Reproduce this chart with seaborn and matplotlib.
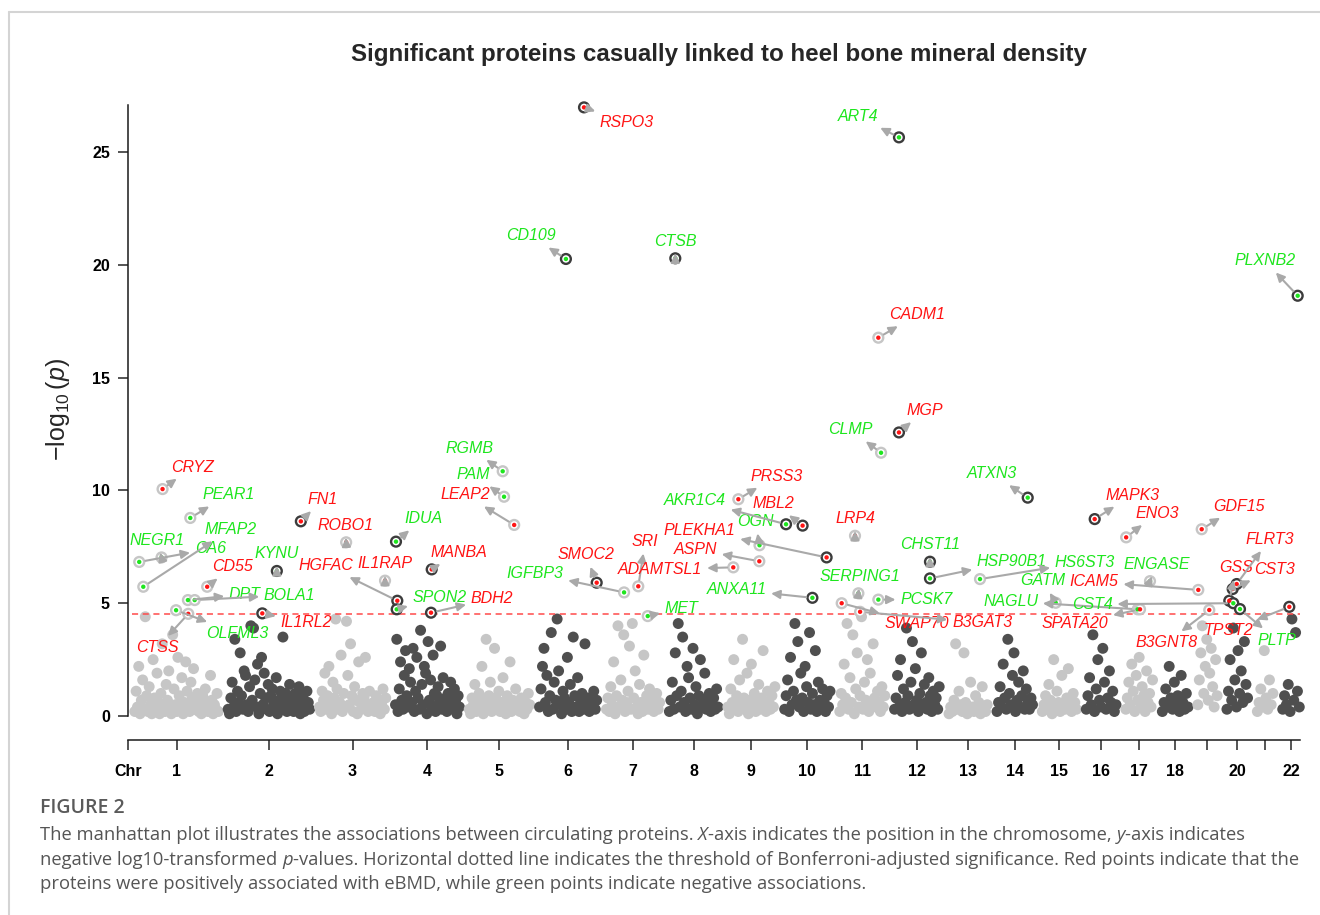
"""
Manhattan plot - significant proteins linked to heel BMD
"""

import numpy as np
import pandas as pd

import matplotlib.pyplot as plt
from matplotlib.lines import Line2D
import seaborn as sns

##########################################################
# Chromosome Layout (Mb)
##########################################################

chrom_lengths = [249, 243, 198, 191, 181, 171, 159, 146, 141, 136, 135,
                 134, 115, 107, 103, 90, 81, 78, 59, 63, 48, 51]

chrom_tick_labels = ["Chr", "1", "2", "3", "4", "5", "6", "7", "8", "9",
                     "10", "11", "12", "13", "14", "15", "16", "17", "18",
                     "", "20", "", "22"]

##########################################################
# Background Proteins (-log10 p per chromosome)
##########################################################

chr1_logp = [0.2, 1.1, 0.4, 2.2, 0.1, 0.7, 1.6, 0.3, 4.4, 0.9, 0.2, 1.3, 0.5,
             0.1, 2.5, 0.8, 0.3, 1.9, 0.6, 0.1, 1.0, 3.2, 0.4, 0.2, 1.4, 0.7,
             2.0, 0.3, 0.1, 3.6, 1.2, 0.5, 0.2, 2.6, 0.9, 0.3, 1.7, 0.1, 0.6,
             2.4, 1.1, 0.4, 0.2, 1.5, 0.8, 2.1, 0.3, 0.6, 1.0, 0.2, 0.5, 0.1,
             0.9, 0.3, 1.2, 0.6, 0.2, 0.4, 1.8, 0.7, 0.1, 0.5, 0.3, 1.0, 0.2]
chr2_logp = [0.3, 0.1, 0.8, 1.5, 0.4, 3.4, 0.2, 1.1, 0.6, 2.8, 0.9, 0.3, 2.0,
             1.8, 0.5, 0.2, 1.3, 4.0, 0.7, 3.9, 1.6, 0.4, 2.3, 0.1, 1.0, 2.6,
             0.5, 1.9, 0.8, 0.3, 1.4, 0.2, 0.9, 1.2, 0.6, 0.4, 1.7, 0.1, 0.7,
             1.1, 0.3, 3.5, 0.5, 1.0, 0.2, 0.8, 1.4, 0.4, 0.6, 0.2, 1.0, 0.3,
             0.7, 1.3, 0.1, 0.5, 0.9, 0.2, 0.4, 1.1, 0.6, 0.3]
chr3_logp = [0.4, 0.2, 1.1, 0.7, 1.9, 0.3, 0.9, 2.2, 0.5, 0.1, 1.5, 0.8, 4.3,
             1.2, 0.3, 0.6, 2.7, 0.2, 1.0, 0.4, 4.2, 1.8, 0.5, 3.2, 0.9, 0.2,
             1.3, 0.7, 0.1, 2.4, 0.6, 0.3, 1.0, 0.8, 2.6, 0.4, 0.2, 1.1, 0.5,
             0.3, 0.6, 0.2, 0.9, 0.4, 0.7, 0.1, 0.5, 1.2, 0.3, 0.8]
chr4_logp = [0.5, 3.4, 0.2, 1.2, 2.4, 0.7, 0.3, 1.8, 2.9, 0.9, 0.4, 2.1, 1.5,
             0.6, 3.0, 0.2, 1.1, 2.6, 0.8, 0.3, 3.8, 1.4, 0.5, 2.2, 1.9, 0.1,
             3.3, 0.7, 1.6, 0.4, 2.7, 1.0, 0.2, 0.9, 1.3, 0.6, 3.1, 0.3, 1.7,
             0.5, 0.8, 0.2, 1.0, 0.4, 1.5, 0.6, 0.3, 1.2, 0.7, 0.1, 0.9, 0.4]
chr5_logp = [0.3, 0.1, 0.8, 0.5, 1.4, 0.2, 0.6, 1.0, 0.4, 2.2, 0.1, 0.7, 3.4,
             0.3, 0.9, 1.5, 0.2, 0.5, 3.0, 0.8, 0.4, 1.1, 0.2, 0.6, 1.7, 0.3,
             0.1, 0.9, 0.5, 2.4, 0.2, 0.7, 0.4, 1.2, 0.3, 0.6, 0.2, 0.8, 0.4,
             0.1, 0.6, 0.3, 1.0, 0.5]
chr6_logp = [0.4, 1.2, 2.2, 3.0, 0.6, 1.8, 0.2, 0.9, 3.7, 0.3, 1.5, 0.7, 4.3,
             2.0, 0.5, 0.1, 1.1, 0.8, 0.3, 2.6, 0.6, 1.4, 0.2, 3.5, 0.9, 0.4,
             1.7, 0.2, 0.7, 1.0, 0.3, 3.2, 0.5, 0.8, 0.2, 0.6, 0.4, 1.1, 0.3,
             0.7]
chr7_logp = [0.3, 0.8, 0.2, 1.3, 0.5, 2.4, 0.1, 0.9, 4.0, 0.4, 1.6, 0.7, 3.6,
             0.2, 0.6, 1.1, 3.1, 0.3, 4.1, 0.8, 2.0, 0.4, 0.1, 1.4, 0.6, 0.2,
             2.7, 0.5, 0.9, 0.3, 1.2, 0.4, 0.7, 0.2, 0.5, 1.0, 0.3, 0.6]
chr8_logp = [0.2, 0.7, 1.5, 0.3, 2.8, 0.9, 4.1, 0.4, 1.1, 3.5, 0.6, 0.2, 2.2,
             1.7, 0.8, 0.3, 3.0, 0.5, 1.3, 0.1, 0.9, 2.5, 0.4, 0.7, 1.9, 0.3,
             0.6, 1.0, 0.2, 0.5, 0.8, 0.3, 1.2, 0.4]
chr9_logp = [0.4, 0.1, 1.2, 0.6, 2.5, 0.3, 0.9, 0.2, 1.6, 0.5, 3.4, 0.8, 0.3,
             1.9, 0.1, 0.7, 2.3, 0.4, 1.0, 0.2, 0.6, 1.4, 0.3, 0.8, 2.9, 0.5,
             0.2, 1.1, 0.6, 0.3, 0.9, 0.4, 1.3]
chr10_logp = [0.3, 0.9, 1.6, 0.2, 2.6, 0.5, 1.1, 4.1, 0.7, 3.3, 0.4, 1.9, 0.8,
              0.2, 2.2, 1.3, 0.6, 3.7, 0.3, 1.0, 0.5, 2.9, 0.2, 1.5, 0.7, 0.4,
              1.2, 0.6, 0.2, 0.9, 0.4, 1.1]
chr11_logp = [0.2, 1.0, 0.5, 2.3, 0.8, 4.1, 0.3, 1.7, 0.6, 3.6, 0.1, 1.2, 2.8,
              0.4, 0.9, 4.4, 0.3, 1.5, 0.7, 2.5, 0.2, 1.9, 0.5, 3.2, 0.8, 0.4,
              1.1, 0.6, 0.2, 1.3, 0.4, 0.9]
chr12_logp = [0.3, 0.8, 1.8, 0.4, 2.5, 0.2, 1.2, 0.6, 3.9, 0.9, 0.3, 1.5, 3.3,
              0.5, 2.1, 0.7, 0.2, 1.0, 2.8, 0.4, 1.4, 0.6, 0.3, 1.7, 0.9, 0.2,
              1.1, 0.5, 0.8, 0.3, 1.3]
chr13_logp = [0.1, 0.4, 0.2, 0.7, 3.2, 0.3, 1.1, 0.5, 0.2, 2.8, 0.6, 0.1, 0.3,
              1.5, 0.4, 0.2, 0.9, 0.3, 0.6, 0.1, 1.3, 0.4, 0.2, 0.5]
chr14_logp = [0.2, 0.6, 1.3, 0.4, 2.3, 0.8, 0.3, 3.4, 1.0, 0.5, 1.8, 2.8, 0.2,
              0.7, 1.5, 0.4, 0.9, 2.0, 0.3, 1.2, 0.6, 0.3, 0.8, 0.5]
chr15_logp = [0.2, 0.5, 0.9, 0.3, 1.4, 0.7, 0.1, 2.5, 0.4, 1.1, 0.6, 0.2, 1.8,
              0.5, 0.3, 0.8, 2.1, 0.4, 0.2, 1.0, 0.6, 0.3]
chr16_logp = [0.3, 0.9, 1.7, 0.5, 3.6, 0.2, 1.2, 2.5, 0.7, 0.4, 3.0, 1.5, 0.3,
              0.8, 2.0, 0.6, 1.1, 0.2, 0.5]
chr17_logp = [0.3, 0.8, 1.5, 0.5, 2.3, 1.1, 0.2, 1.8, 0.7, 2.6, 0.4, 1.3, 0.9,
              0.2, 2.0, 0.6, 1.0, 0.4, 1.6]
chr18_logp = [0.2, 0.6, 1.2, 0.4, 2.2, 0.8, 0.3, 1.5, 0.5, 0.9, 0.2, 1.8, 0.6,
              0.3, 1.0, 0.4]
chr19_logp = [0.5, 1.6, 2.8, 4.0, 1.0, 2.2, 3.4, 0.7, 1.9, 3.0, 1.3, 0.4, 2.5,
              0.9]
chr20_logp = [0.3, 1.1, 2.5, 0.7, 3.9, 1.6, 0.4, 2.9, 1.0, 2.0, 0.6, 3.3, 1.4,
              0.8]
chr21_logp = [0.2, 0.6, 1.2, 0.4, 2.9, 0.8, 0.3, 1.6, 0.5, 1.0]
chr22_logp = [0.3, 0.9, 0.5, 1.4, 0.2, 4.3, 0.7, 3.7, 1.1, 0.4]

background_logp = [chr1_logp, chr2_logp, chr3_logp, chr4_logp, chr5_logp,
                   chr6_logp, chr7_logp, chr8_logp, chr9_logp, chr10_logp,
                   chr11_logp, chr12_logp, chr13_logp, chr14_logp, chr15_logp,
                   chr16_logp, chr17_logp, chr18_logp, chr19_logp, chr20_logp,
                   chr21_logp, chr22_logp]

##########################################################
# Significant Proteins
##########################################################

sig_gene = ["CRYZ", "PEAR1", "NEGR1", "CA6", "MFAP2", "CD55", "DPT", "BOLA1",
            "OLFML3", "CTSS", "KYNU", "FN1", "IL1RL2", "ROBO1", "IL1RAP",
            "IDUA", "HGFAC", "SPON2", "MANBA", "BDH2", "RGMB", "PAM", "LEAP2",
            "CD109", "RSPO3", "SMOC2", "IGFBP3", "SRI", "MET", "CTSB",
            "ADAMTSL1", "PRSS3", "ASPN", "OGN", "AKR1C4", "MBL2", "ANXA11",
            "PLEKHA1", "SWAP70", "LRP4", "SERPING1", "B3GAT3", "CADM1",
            "PCSK7", "CLMP", "ART4", "MGP", "CHST11", "HSP90B1", "HS6ST3",
            "ATXN3", "GATM", "MAPK3", "ENO3", "NAGLU", "SPATA20", "ENGASE",
            "ICAM5", "GDF15", "B3GNT8", "GSS", "CST3", "CST4", "FLRT3", "PLTP",
            "TPST2", "PLXNB2"]

sig_chr = [1, 1, 1, 1, 1, 1, 1, 1, 1, 1, 2, 2, 2, 3, 3, 4, 4, 4, 4, 4, 5, 5, 5,
           6, 6, 6, 7, 7, 7, 8, 9, 9, 9, 9, 10, 10, 10, 10, 11, 11, 11, 11, 11,
           11, 11, 12, 12, 12, 12, 13, 14, 15, 16, 17, 17, 17, 17, 19, 19, 19,
           20, 20, 20, 20, 20, 22, 22]

sig_pos = [83, 165, 80, 14, 26, 215, 158, 178, 123, 159, 145, 216, 102, 80,
           195, 2.4, 6.3, 4.5, 108, 106, 100, 104, 134, 79, 132.5, 170, 53, 95,
           123, 18.5, 17, 32, 94, 94.5, 5, 54, 83, 125, 6.6, 46, 56, 61, 115,
           115, 123, 14, 14, 105.7, 105.7, 92.7, 91.8, 40.6, 25.9, 2, 36, 43,
           72.5, 2.3, 12.4, 34.8, 8, 18, 19.8, 29.9, 39.6, 20.5, 45.3]

sig_logp = [10.06, 8.78, 7.03, 6.83, 5.73, 5.73, 5.14, 5.14, 4.69, 4.53, 6.43,
            8.63, 4.55, 7.70, 6.00, 7.73, 5.11, 4.73, 6.50, 4.58, 10.85, 9.72,
            8.47, 20.26, 26.98, 5.91, 5.48, 5.75, 4.43, 20.29, 6.59, 9.61,
            6.86, 7.57, 8.50, 8.44, 5.24, 7.03, 5.00, 7.99, 5.44, 4.62, 16.77,
            5.16, 11.67, 25.65, 12.57, 6.84, 6.10, 6.07, 9.68, 5.02, 8.73,
            7.92, 4.73, 4.73, 5.98, 5.59, 8.28, 4.70, 5.11, 5.63, 5.00, 5.85,
            4.74, 4.84, 18.63]

sig_effect = ["+", "-", "-", "-", "-", "+", "-", "-", "-", "+", "-", "+", "+",
              "+", "+", "-", "+", "-", "+", "+", "-", "-", "+", "-", "+", "+",
              "-", "+", "-", "-", "+", "+", "+", "-", "-", "+", "-", "+", "+",
              "+", "-", "+", "+", "-", "-", "-", "+", "-", "-", "-", "-", "-",
              "+", "+", "-", "+", "-", "+", "+", "+", "+", "+", "-", "+", "-",
              "+", "-"]

threshold = 4.51

##########################################################
# Label Placement (pixel offsets from point)
##########################################################

label_offsets = {
    "CRYZ": (30, 22), "PEAR1": (38, 23), "NEGR1": (-5, 17), "CA6": (71, 13),
    "MFAP2": (87, 57), "CD55": (25, 20), "DPT": (57, 6), "BOLA1": (95, 5),
    "OLFML3": (61, -23), "CTSS": (-31, -34), "KYNU": (0, 17), "FN1": (22, 22),
    "IL1RL2": (44, -9), "ROBO1": (-1, 17), "IL1RAP": (0, 17),
    "IDUA": (27, 23), "HGFAC": (-71, 35), "SPON2": (43, 12),
    "MANBA": (27, 17), "BDH2": (61, 14), "RGMB": (-33, 23), "PAM": (-31, 22),
    "LEAP2": (-49, 30), "CD109": (-35, 23), "RSPO3": (43, -15),
    "SMOC2": (-11, 28), "IGFBP3": (-89, 19), "SRI": (7, 45), "MET": (34, 8),
    "CTSB": (0, 17), "ADAMTSL1": (-73, -2), "PRSS3": (38, 23),
    "ASPN": (-64, 12), "OGN": (-4, 24), "AKR1C4": (-91, 24),
    "MBL2": (-29, 22), "ANXA11": (-76, 8), "PLEKHA1": (-127, 27),
    "SWAP70": (75, -20), "LRP4": (0, 17), "SERPING1": (2, 17),
    "B3GAT3": (122, -11), "CADM1": (39, 23), "PCSK7": (48, 0),
    "CLMP": (-31, 23), "ART4": (-41, 21), "MGP": (26, 22), "CHST11": (0, 17),
    "HSP90B1": (82, 17), "HS6ST3": (105, 17), "ATXN3": (-36, 24),
    "GATM": (-13, 22), "MAPK3": (38, 24), "ENO3": (31, 24),
    "NAGLU": (-127, 8), "SPATA20": (-65, -14), "ENGASE": (7, 17),
    "ICAM5": (-104, 8), "GDF15": (37, 23), "B3GNT8": (-43, -33),
    "GSS": (7, 33), "CST3": (42, 20), "CST4": (-141, -1), "FLRT3": (33, 45),
    "PLTP": (37, -31), "TPST2": (-61, -24), "PLXNB2": (-33, 35),
}

##########################################################
# Colours
##########################################################

LIGHT = "#c6c6c6"
DARK = "#4f4f4f"
RING_DARK = "#3c3c3c"
RED = "#ff1414"
GREEN = "#1ee61e"
ARROW = "#a9a9a9"

##########################################################
# Genome Coordinates
##########################################################

GAP = 27
chrom_start = np.concatenate([[0], np.cumsum(np.array(chrom_lengths) + GAP)[:-1]])
chrom_center = chrom_start + np.array(chrom_lengths) / 2
genome_end = chrom_start[-1] + chrom_lengths[-1]
chr_axis_start = -19.2

rows = []
for i, heights in enumerate(background_logp):
    length = chrom_lengths[i]
    positions = np.linspace(1, length - 1, len(heights))
    for pos, h in zip(positions, heights):
        rows.append({
            "chr": i + 1,
            "x": chrom_start[i] + pos,
            "logp": h,
            "shade": "light" if (i + 1) % 2 else "dark",
        })

bg_df = pd.DataFrame(rows)

sig_df = pd.DataFrame({
    "gene": sig_gene,
    "chr": sig_chr,
    "pos": sig_pos,
    "logp": sig_logp,
    "effect": sig_effect,
})
sig_df["x"] = [chrom_start[c - 1] + p for c, p in zip(sig_df["chr"], sig_df["pos"])]
sig_df["ring"] = [LIGHT if c % 2 else RING_DARK for c in sig_df["chr"]]
sig_df["color"] = [RED if e == "+" else GREEN for e in sig_df["effect"]]

##########################################################
# Style
##########################################################

sns.set_style("white")
plt.rcParams["font.family"] = ["Liberation Sans", "DejaVu Sans"]
plt.rcParams["mathtext.fontset"] = "custom"
plt.rcParams["mathtext.rm"] = "Liberation Sans"
plt.rcParams["mathtext.it"] = "Liberation Sans:italic"

W, H = 1320, 915

fig = plt.figure(figsize=(W / 100, H / 100), dpi=100)

ax = fig.add_axes([128 / W, (H - 727.3) / H, 1182 / W, 637.3 / H])

##########################################################
# Background Points
##########################################################

sns.scatterplot(
    data=bg_df,
    x="x",
    y="logp",
    hue="shade",
    palette={"light": LIGHT, "dark": DARK},
    s=62,
    linewidth=0,
    legend=False,
    ax=ax,
    zorder=2
)

##########################################################
# Threshold
##########################################################

ax.hlines(threshold, -8, genome_end, colors="#ff4a4a",
          linestyles=(0, (4, 3)), linewidth=1.1, zorder=3)

##########################################################
# Significant Points
##########################################################

ax.scatter(sig_df["x"], sig_df["logp"], s=50, facecolors="white",
           edgecolors=sig_df["ring"], linewidths=1.7, zorder=4)

sns.scatterplot(
    data=sig_df,
    x="x",
    y="logp",
    hue="effect",
    palette={"+": RED, "-": GREEN},
    s=10,
    linewidth=0,
    legend=False,
    ax=ax,
    zorder=5
)

for _, row in sig_df.iterrows():
    dx, dy = label_offsets[row["gene"]]
    ax.annotate(
        row["gene"],
        xy=(row["x"], row["logp"]),
        xytext=(dx, dy),
        textcoords="offset pixels",
        ha="center",
        va="center",
        fontsize=11.5,
        style="italic",
        color=row["color"],
        zorder=6,
        arrowprops=dict(
            arrowstyle="<|-,head_length=0.45,head_width=0.22",
            color=ARROW,
            lw=1.5,
            shrinkA=1,
            shrinkB=4.5
        )
    )

##########################################################
# Axes
##########################################################

ax.set_xlim(chr_axis_start, 3476.7)
ax.set_ylim(-0.5, 27.75)

for side in ["top", "right"]:
    ax.spines[side].set_visible(False)

ax.spines["left"].set_bounds(0, 27.1)
ax.spines["bottom"].set_position(("outward", 9.1))
ax.spines["bottom"].set_bounds(chr_axis_start, genome_end)
for side in ["left", "bottom"]:
    ax.spines[side].set_linewidth(1.1)
    ax.spines[side].set_color("#1a1a1a")

ax.tick_params(axis="x", direction="out", length=7, width=1.1, pad=10, bottom=True)
ax.tick_params(axis="y", direction="out", length=7, width=1.1, pad=6, left=True)

ax.set_xticks([chr_axis_start] + list(chrom_center))
ax.set_xticklabels(chrom_tick_labels)
ax.set_yticks([0, 5, 10, 15, 20, 25])
ax.set_yticklabels(["0", "5", "10", "15", "20", "25"])

for lab in ax.get_xticklabels() + ax.get_yticklabels():
    lab.set_fontsize(11.5)
    lab.set_fontweight("bold")
    lab.set_color("black")

ax.set_xlabel("")
ax.set_ylabel(r"$-\log_{10}(\mathit{p})$", fontsize=18)
ax.yaxis.set_label_coords(-0.047, 0.498)

##########################################################
# Title
##########################################################

fig.text(719 / W, 1 - 55 / H,
         "Significant proteins casually linked to heel bone mineral density",
         ha="center", va="center", fontsize=17.4, fontweight="bold")

##########################################################
# Frame Lines
##########################################################

fig.add_artist(Line2D([9 / W, 1], [1 - 12 / H, 1 - 12 / H],
                      transform=fig.transFigure, color="#d4d4d4", lw=1.5))
fig.add_artist(Line2D([9 / W, 9 / W], [0, 1 - 12 / H],
                      transform=fig.transFigure, color="#d4d4d4", lw=1.5))

##########################################################
# Caption
##########################################################

renderer = fig.canvas.get_renderer()


def caption_line(y_px, segments, size=13.2):
    x = 40 / W
    for text, style in segments:
        t = fig.text(x, 1 - y_px / H, text, ha="left", va="center",
                     fontsize=size, style=style, color="#555555",
                     family=["Open Sans", "DejaVu Sans"])
        x += t.get_window_extent(renderer).width / W


fig.text(40 / W, 1 - 808 / H, "FIGURE 2", ha="left", va="center",
         fontsize=14, fontweight="semibold", color="#5a5a5a",
         family=["Open Sans", "DejaVu Sans"])

caption_line(835, [
    ("The manhattan plot illustrates the associations between circulating proteins. ", "normal"),
    ("X", "italic"),
    ("-axis indicates the position in the chromosome, ", "normal"),
    ("y", "italic"),
    ("-axis indicates", "normal"),
])
caption_line(860, [
    ("negative log10-transformed ", "normal"),
    ("p", "italic"),
    ("-values. Horizontal dotted line indicates the threshold of Bonferroni-adjusted significance. Red points indicate that the", "normal"),
])
caption_line(884, [
    ("proteins were positively associated with eBMD, while green points indicate negative associations.", "normal"),
])

fig.savefig("out.png", dpi=100)
plt.close()
